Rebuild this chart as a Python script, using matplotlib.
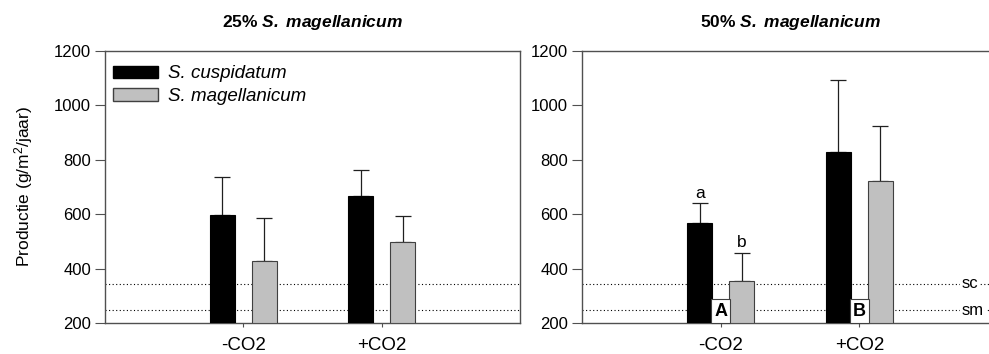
import matplotlib
matplotlib.use("Agg")
import matplotlib.pyplot as plt
from matplotlib.patches import Patch

plt.rcParams['font.family'] = ['Liberation Sans', 'DejaVu Sans']
plt.rcParams['mathtext.fontset'] = 'custom'
plt.rcParams['mathtext.rm'] = 'Liberation Sans'
plt.rcParams['mathtext.it'] = 'Liberation Sans:italic'
plt.rcParams['mathtext.bf'] = 'Liberation Sans:bold'
plt.rcParams['mathtext.bfit'] = 'Liberation Sans:bold:italic'

groups = ["-CO2", "+CO2"]
species = ["S. cuspidatum", "S. magellanicum"]

# 25% S. magellanicum
cusp_25 = [598, 667]
cusp_25_err = [140, 95]
mage_25 = [427, 498]
mage_25_err = [160, 96]

# 50% S. magellanicum
cusp_50 = [569, 828]
cusp_50_err = [71, 265]
mage_50 = [356, 723]
mage_50_err = [102, 201]

sc_line = 345
sm_line = 247
letters_50 = ["a", "b"]
boxes_50 = ["A", "B"]

fig = plt.figure(figsize=(9.89, 3.54), dpi=100)
ax1 = fig.add_axes([0.1062, 0.0876, 0.4196, 0.7684])
ax2 = fig.add_axes([0.5885, 0.0876, 0.4206, 0.7684])

BLACK = "black"
GREY = "#c0c0c0"
SPINE = "#505050"
w = 0.18
off = 0.151
x = [1, 2]


def draw(ax, c, ce, m, me, title):
    xc = [p - off for p in x]
    xm = [p + off for p in x]
    ax.bar(xc, [v - 200 for v in c], w, bottom=200, color=BLACK, edgecolor=BLACK, lw=0.8, zorder=3)
    ax.bar(xm, [v - 200 for v in m], w, bottom=200, color=GREY, edgecolor="#404040", lw=0.8, zorder=3)
    ax.errorbar(xc, c, yerr=[[0] * 2, ce], fmt="none", ecolor="#202020", elinewidth=0.9,
                capsize=6, capthick=0.9, zorder=2)
    ax.errorbar(xm, m, yerr=[[0] * 2, me], fmt="none", ecolor="#202020", elinewidth=0.9,
                capsize=6, capthick=0.9, zorder=2)
    for yv in (sc_line, sm_line):
        ax.axhline(yv, color="black", ls=(0, (1, 2.2)), lw=0.8, zorder=1)
    ax.set_xlim(0, 3)
    ax.set_ylim(200, 1200)
    ax.set_yticks(range(200, 1201, 200))
    ax.set_xticks(x)
    ax.set_xticklabels(groups)
    ax.tick_params(axis="y", direction="out", length=7, width=0.8, color=SPINE, labelsize=12, pad=3)
    ax.tick_params(axis="x", direction="out", length=3, width=0.8, color=SPINE, labelsize=13.5, pad=7)
    for s in ax.spines.values():
        s.set_color(SPINE)
        s.set_linewidth(1.0)
    ax.set_title(title, fontsize=12.5, fontweight="bold", pad=17)


draw(ax1, cusp_25, cusp_25_err, mage_25, mage_25_err,
     r"25% $\mathbfit{S.\ magellanicum}$")
draw(ax2, cusp_50, cusp_50_err, mage_50, mage_50_err,
     r"50% $\mathbfit{S.\ magellanicum}$")

ax1.set_ylabel("Productie (g/m$^2$/jaar)", fontsize=12.5, labelpad=14)

handles = [Patch(facecolor=BLACK, edgecolor=BLACK), Patch(facecolor=GREY, edgecolor="#404040")]
leg = ax1.legend(handles, species, loc="upper left", frameon=False, fontsize=13.5,
                 handlelength=2.4, handleheight=0.65, handletextpad=0.5,
                 labelspacing=0.3, borderaxespad=0.3, bbox_to_anchor=(-0.012, 0.995))
for t in leg.get_texts():
    t.set_fontstyle("italic")

# letters over the error bars
ax2.text(x[0] - off, cusp_50[0] + cusp_50_err[0] + 10, letters_50[0], ha="center", va="bottom", fontsize=12.5)
ax2.text(x[0] + off, mage_50[0] + mage_50_err[0] + 10, letters_50[1], ha="center", va="bottom", fontsize=12.5)

# boxed group letters
for p, lab in zip(x, boxes_50):
    ax2.text(p, 212, lab, ha="center", va="bottom", fontsize=13, fontweight="bold", zorder=5,
             bbox=dict(boxstyle="square,pad=0.18", facecolor="white", edgecolor="#404040", lw=0.8))

ax2.spines["right"].set_visible(False)
for yv, lab in ((sc_line, "sc"), (sm_line, "sm")):
    ax2.text(2.74, yv, lab, ha="left", va="center", fontsize=12, zorder=5,
             bbox=dict(boxstyle="square,pad=0.1", facecolor="white", edgecolor="none"))

fig.savefig("out.png", dpi=100)
